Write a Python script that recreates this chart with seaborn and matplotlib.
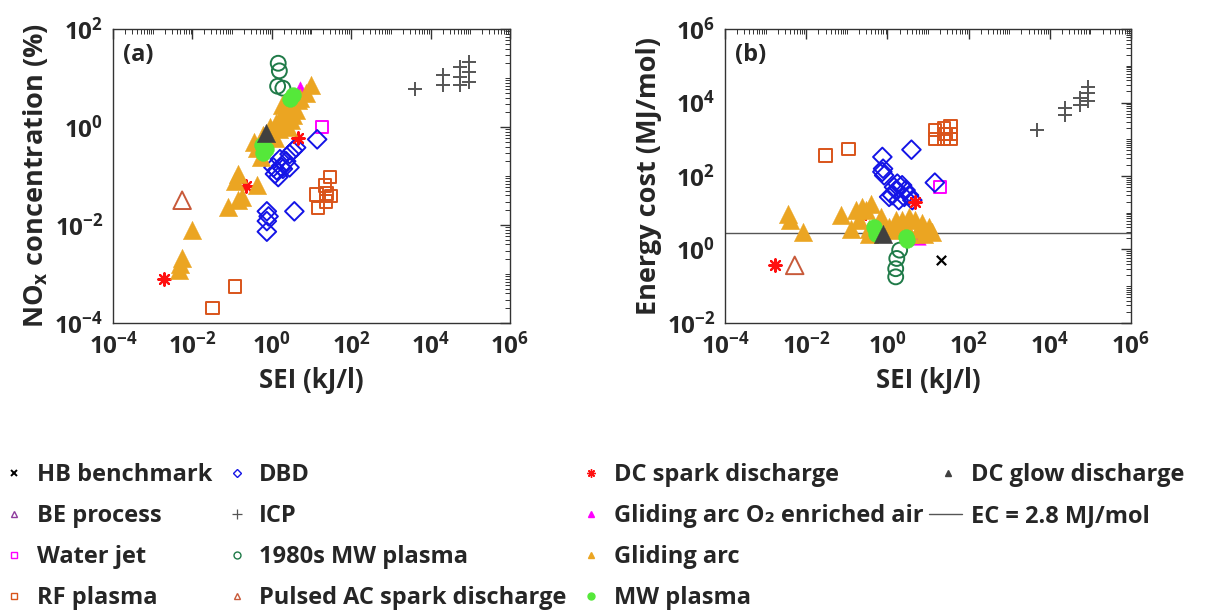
import numpy as np
import pandas as pd
import matplotlib
matplotlib.use("Agg")
import matplotlib.pyplot as plt
from matplotlib.lines import Line2D
from matplotlib.legend_handler import HandlerBase
from matplotlib.ticker import LogLocator, FixedLocator, NullFormatter
import seaborn as sns

# ---------------- data: panel (a) NOx concentration (%) vs SEI (kJ/l) ----------------
a_be_x = [2.0]
a_be_y = [3.0]
a_wj_x = [18.5]
a_wj_y = [1.0]
a_rf_x = [0.032, 0.12, 13.4, 14.7, 22, 23, 24, 29, 31]
a_rf_y = [2e-4, 5.6e-4, 0.042, 0.022, 0.064, 0.03, 0.044, 0.095, 0.039]
a_dbd_x = [13.9, 4.1, 3.4, 2.8, 2.3, 1.9, 1.76, 1.6, 1.33, 1.2, 1.45, 2.8, 1.1,
           0.75, 0.83, 0.75, 0.75, 3.7]
a_dbd_y = [0.56, 0.38, 0.33, 0.28, 0.2, 0.14, 0.15, 0.22, 0.13, 0.11, 0.095, 0.15, 0.15,
           0.019, 0.015, 0.012, 0.0073, 0.019]
a_icp_x = [4100, 2e4, 2e4, 5.4e4, 5.4e4, 5.4e4, 9.1e4, 9.1e4, 9.1e4]
a_icp_y = [5.9, 11.5, 7.2, 17, 10.7, 7.2, 21, 13.5, 8.3]
a_mw80_x = [1.45, 1.55, 1.4, 1.9]
a_mw80_y = [20, 14, 6.8, 6.2]
a_pac_x = [0.0055]
a_pac_y = [0.032]
a_dcs_x = [0.0019, 0.22, 4.5]
a_dcs_y = [7.8e-4, 0.062, 0.6]
a_gao2_x = [5.1]
a_gao2_y = [5.8]
a_ga_x = [9.5, 7.2, 5.0, 4.5, 3.5, 3.0, 2.5, 2.0, 1.6, 1.3, 2.0, 3.0, 4.0, 1.5, 2.5, 1.8,
          1.2, 0.43, 0.52, 0.14, 0.115, 0.18, 0.14, 0.43, 0.08, 0.0096, 0.0055, 0.0049,
          0.0045, 0.35, 0.6, 0.9]
a_ga_y = [7.3, 4.9, 4.0, 3.5, 1.8, 3.0, 2.5, 2.0, 1.5, 1.2, 1.2, 1.4, 2.2, 0.9, 1.0, 2.8,
          0.6, 0.38, 0.24, 0.11, 0.08, 0.037, 0.032, 0.064, 0.023, 0.0079, 0.0021, 0.0016,
          0.0012, 0.5, 0.7, 1.0]
a_mw_x = [2.8, 3.4, 0.55, 0.7, 0.6]
a_mw_y = [3.8, 4.4, 0.42, 0.35, 0.3]
a_dcg_x = [0.72]
a_dcg_y = [0.75]

# ---------------- data: panel (b) Energy cost (MJ/mol) vs SEI (kJ/l) ----------------
b_hb_x = [21.4]
b_hb_y = [0.51]
b_be_x = [0.9]
b_be_y = [2.3]
b_wj_x = [20]
b_wj_y = [50]
b_rf_x = [0.03, 0.11, 15, 15, 24.5, 35.5, 24.5, 35.5, 35.5, 27]
b_rf_y = [363, 550, 1800, 1030, 1940, 2230, 1030, 1030, 1400, 1400]
b_dbd_x = [0.75, 0.78, 0.83, 0.75, 3.9, 14.7, 2.3, 1.6, 1.3, 2.8, 3.4, 1.9, 2.6, 1.45,
           4.1, 1.1, 1.75]
b_dbd_y = [330, 158, 104, 130, 520, 66, 56, 41, 30, 41, 30, 22, 27, 50, 22, 27, 62]
b_icp_x = [4700, 2.3e4, 2.3e4, 5.4e4, 5.4e4, 8.7e4, 8.7e4, 8.7e4]
b_icp_y = [1820, 7000, 4600, 1.3e4, 8700, 2.7e4, 1.8e4, 1.07e4]
b_mw80_x = [2.0, 1.7, 1.6, 1.6]
b_mw80_y = [0.96, 0.57, 0.3, 0.18]
b_pac_x = [0.0052]
b_pac_y = [0.37]
b_dcs_x = [0.0017, 0.22, 4.9]
b_dcs_y = [0.37, 8.5, 19.7]
b_gao2_x = [5.5]
b_gao2_y = [2.3]
b_ga_x = [0.0035, 0.0039, 0.0083, 0.072, 0.126, 0.17, 0.24, 0.39, 0.2, 0.36, 0.36, 0.69,
          1.6, 2.3, 3.4, 4.9, 7.2, 10.5, 12.7, 1.6, 2.8, 6.0, 7.9, 3.4, 1.1, 0.3]
b_ga_y = [9.5, 6.3, 3.0, 8.5, 3.5, 11.7, 14.4, 17.8, 6.3, 3.7, 2.7, 7.7,
          6.3, 6.3, 7.7, 6.3, 5.1, 4.1, 3.0, 3.3, 4.1, 3.7, 2.7, 2.7, 4.1, 12]
b_mw_x = [0.47, 0.52, 2.8, 3.1]
b_mw_y = [4.1, 2.7, 2.2, 1.8]
b_dcg_x = [0.8]
b_dcg_y = [2.7]
ec_benchmark = 2.8

legend_labels = ["HB benchmark", "BE process", "Water jet", "RF plasma",
                 "DBD", "ICP", "1980s MW plasma", "Pulsed AC spark discharge",
                 "DC spark discharge", "Gliding arc O\u2082 enriched air", "Gliding arc",
                 "MW plasma", "DC glow discharge", "EC = 2.8 MJ/mol"]

# ---------------- style ----------------
FONT = "Open Sans"
sns.set_style("white")
plt.rcParams["font.family"] = [FONT, "DejaVu Sans"]
plt.rcParams["font.weight"] = "bold"
plt.rcParams["axes.labelweight"] = "bold"
plt.rcParams["mathtext.fontset"] = "custom"
plt.rcParams["mathtext.rm"] = FONT + ":bold"
plt.rcParams["mathtext.it"] = FONT + ":bold"
plt.rcParams["mathtext.bf"] = FONT + ":bold"
plt.rcParams["axes.unicode_minus"] = False

C_RF = "#D9541A"
C_PAC = "#C85A3A"
C_DBD = "#1414E6"
C_ICP = "#555555"
C_MW80 = "#1F7A48"
C_DCS = "#FF1010"
C_MAG = "#FF00FF"
C_GA = "#EBA522"
C_MW = "#55E83A"
C_DCG = "#404040"
C_BE = "#8E3C9E"

AST = (8, 2, 0)

fig = plt.figure(figsize=(12.09, 6.11), dpi=100)
ax_a = fig.add_axes([0.0935, 0.4714, 0.3283, 0.4811])
ax_b = fig.add_axes([0.5997, 0.4714, 0.3358, 0.4811])


def sc(ax, xs, ys, marker, s, color=None, edge=None, lw=1.4, open_=False, zo=2):
    df = pd.DataFrame({"x": xs, "y": ys})
    if open_:
        sns.scatterplot(data=df, x="x", y="y", ax=ax, marker=marker, s=s,
                        color="none", edgecolor=edge, linewidth=lw, legend=False, zorder=zo)
    elif marker in ("x", "+", AST):
        sns.scatterplot(data=df, x="x", y="y", ax=ax, marker=marker, s=s,
                        color=color, linewidth=lw, legend=False, zorder=zo)
    else:
        sns.scatterplot(data=df, x="x", y="y", ax=ax, marker=marker, s=s,
                        color=color, edgecolor=color, linewidth=0.3, legend=False, zorder=zo)


def draw_panel(ax, d):
    if d.get("hb"):
        sc(ax, *d["hb"], "x", 45, color="k", lw=1.6)
    sc(ax, *d["be"], "^", 50, edge=C_BE, open_=True)
    sc(ax, *d["wj"], "s", 70, edge=C_MAG, open_=True)
    sc(ax, *d["rf"], "s", 80, edge=C_RF, open_=True)
    sc(ax, *d["dbd"], "D", 90, edge=C_DBD, open_=True)
    sc(ax, *d["icp"], "+", 110, color=C_ICP, lw=1.4)
    sc(ax, *d["mw80"], "o", 115, edge=C_MW80, open_=True)
    sc(ax, *d["pac"], "^", 160, edge=C_PAC, open_=True)
    sc(ax, *d["dcs"], AST, 80, color=C_DCS, lw=1.6)
    sc(ax, *d["gao2"], "^", 160, color=C_MAG)
    sc(ax, *d["ga"], "^", 175, color=C_GA)
    sc(ax, *d["mw"], "o", 130, color=C_MW)
    sc(ax, *d["dcg"], "^", 175, color=C_DCG)


draw_panel(ax_a, dict(be=(a_be_x, a_be_y), wj=(a_wj_x, a_wj_y), rf=(a_rf_x, a_rf_y),
                      dbd=(a_dbd_x, a_dbd_y), icp=(a_icp_x, a_icp_y),
                      mw80=(a_mw80_x, a_mw80_y), pac=(a_pac_x, a_pac_y),
                      dcs=(a_dcs_x, a_dcs_y), gao2=(a_gao2_x, a_gao2_y),
                      ga=(a_ga_x, a_ga_y), mw=(a_mw_x, a_mw_y), dcg=(a_dcg_x, a_dcg_y)))
draw_panel(ax_b, dict(hb=(b_hb_x, b_hb_y), be=(b_be_x, b_be_y), wj=(b_wj_x, b_wj_y),
                      rf=(b_rf_x, b_rf_y), dbd=(b_dbd_x, b_dbd_y), icp=(b_icp_x, b_icp_y),
                      mw80=(b_mw80_x, b_mw80_y), pac=(b_pac_x, b_pac_y),
                      dcs=(b_dcs_x, b_dcs_y), gao2=(b_gao2_x, b_gao2_y),
                      ga=(b_ga_x, b_ga_y), mw=(b_mw_x, b_mw_y), dcg=(b_dcg_x, b_dcg_y)))
ax_b.axhline(ec_benchmark, color="#555555", lw=1.0, zorder=1)

for ax, ylim, yt in [(ax_a, (1e-4, 1e2), [1e-4, 1e-2, 1e0, 1e2]),
                     (ax_b, (1e-2, 1e6), [1e-2, 1e0, 1e2, 1e4, 1e6])]:
    ax.set_xscale("log")
    ax.set_yscale("log")
    ax.set_xlim(1e-4, 1e6)
    ax.set_ylim(*ylim)
    ax.xaxis.set_major_locator(FixedLocator([1e-4, 1e-2, 1e0, 1e2, 1e4, 1e6]))
    ax.yaxis.set_major_locator(FixedLocator(yt))
    ax.xaxis.set_minor_locator(LogLocator(base=10, subs=np.arange(1, 10), numticks=200))
    ax.yaxis.set_minor_locator(LogLocator(base=10, subs=np.arange(1, 10), numticks=200))
    ax.xaxis.set_minor_formatter(NullFormatter())
    ax.yaxis.set_minor_formatter(NullFormatter())
    ax.tick_params(which="major", direction="in", length=7, width=1.0, top=True, right=True,
                   labelsize=17.5, pad=7, color="#333333")
    ax.tick_params(which="minor", direction="in", length=3.5, width=0.7, top=True, right=True,
                   color="#333333")
    for t in ax.get_xticklabels() + ax.get_yticklabels():
        t.set_fontweight("bold")
    for sp in ax.spines.values():
        sp.set_visible(True)
        sp.set_color("#333333")
        sp.set_linewidth(1.0)
    ax.set_xlabel("SEI (kJ/l)", fontsize=18.5, fontweight="bold", labelpad=5)

ax_a.set_ylabel(r"NO$_{x}$ concentration (%)", fontsize=19.5, fontweight="bold", labelpad=3)
ax_b.set_ylabel("Energy cost (MJ/mol)", fontsize=19.5, fontweight="bold", labelpad=3)
ax_a.text(0.025, 0.952, "(a)", transform=ax_a.transAxes, fontsize=17, fontweight="bold",
          va="top", ha="left")
ax_b.text(0.025, 0.952, "(b)", transform=ax_b.transAxes, fontsize=17, fontweight="bold",
          va="top", ha="left")

# ---------------- legend ----------------
def mk(marker, color, fill=True, ms=5, mew=1.0):
    if fill:
        return Line2D([], [], ls="none", marker=marker, color=color, markersize=ms,
                      markeredgewidth=mew)
    return Line2D([], [], ls="none", marker=marker, markerfacecolor="none",
                  markeredgecolor=color, markersize=ms, markeredgewidth=mew)


class LongLineHandler(HandlerBase):
    def create_artists(self, legend, orig_handle, xdescent, ydescent, width, height,
                       fontsize, trans):
        y = height / 2.0 - ydescent
        ln = Line2D([-xdescent - 0.3 * width, width - xdescent + 0.1 * width], [y, y],
                    color=orig_handle.get_color(), lw=orig_handle.get_linewidth())
        ln.set_transform(trans)
        return [ln]


blank = Line2D([], [], ls="none")
ec_handle = Line2D([], [], color="#555555", lw=1.0)
handles = [
    mk("x", "k", ms=5, mew=1.4), mk("^", C_BE, fill=False), mk("s", C_MAG, fill=False),
    mk("s", C_RF, fill=False),
    mk("D", C_DBD, fill=False, ms=4.5), mk("+", C_ICP, ms=7, mew=0.9),
    mk("o", C_MW80, fill=False), mk("^", C_PAC, fill=False),
    mk(AST, C_DCS, ms=6, mew=1.0), mk("^", C_MAG), mk("^", C_GA), mk("o", C_MW),
    mk("^", C_DCG), ec_handle, blank, blank,
]
labels = legend_labels + ["", ""]
fig.legend(handles, labels, loc="upper left", bbox_to_anchor=(0.002, 0.242), ncol=4,
           frameon=False, handlelength=1.0, handletextpad=0.45,
           columnspacing=0.55, labelspacing=0.72, borderaxespad=0, borderpad=0.0,
           handler_map={ec_handle: LongLineHandler()},
           prop={"family": [FONT, "DejaVu Sans"], "weight": "bold", "size": 17})

fig.savefig("out.png", dpi=100)
